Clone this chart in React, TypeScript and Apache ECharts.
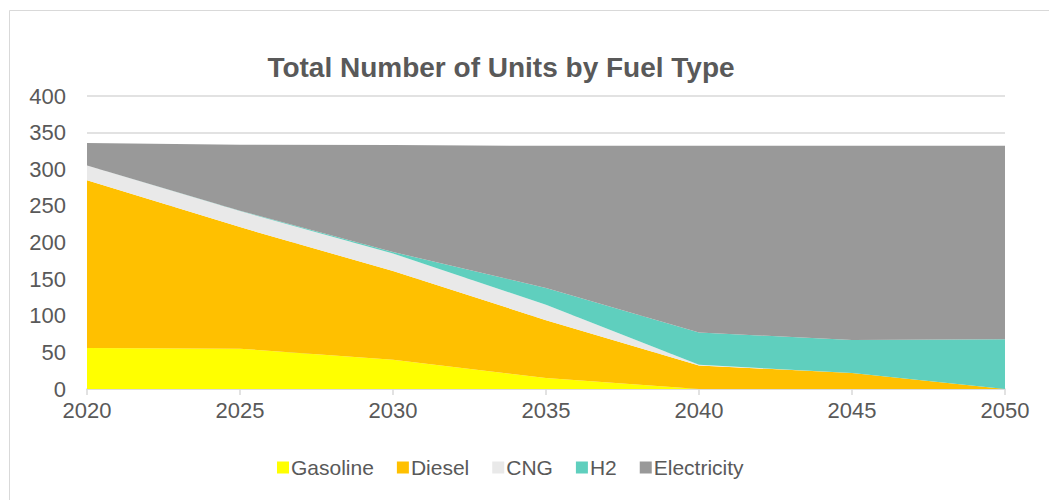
import React, { useEffect, useRef } from "react";
import * as echarts from "echarts";

const years = ["2020", "2025", "2030", "2035", "2040", "2045", "2050"];
const gasoline = [56, 55, 40, 15, 0, 0, 0];
const diesel = [229, 166, 121, 79, 32, 22, 0];
const cng = [20, 22, 24, 21, 1, 0, 0];
const h2 = [0, 0.5, 2, 23, 44, 45, 68];
const electricity = [31, 90, 146, 194, 255, 265, 264];

const seriesNames = ["Gasoline", "Diesel", "CNG", "H2", "Electricity"];
const seriesColors = ["#FFFF00", "#FFC000", "#E9E9E9", "#5FCFBE", "#999999"];
const seriesData = [gasoline, diesel, cng, h2, electricity];

const FONT = "'Liberation Sans', Arial, sans-serif";

export default function App() {
  const ref = useRef<HTMLDivElement>(null);
  useEffect(() => {
    if (!ref.current) return;
    const chart = echarts.init(ref.current, undefined, { renderer: "svg" });
    chart.setOption({
      animation: false,
      backgroundColor: "#ffffff",
      title: {
        text: "Total Number of Units by Fuel Type",
        left: 496,
        top: 48,
        textAlign: "center",
        textStyle: { fontFamily: FONT, fontSize: 28, fontWeight: "bold", color: "#595959" },
      },
      graphic: [
        {
          type: "rect",
          shape: { x: 9.5, y: 10.5, width: 1100, height: 600 },
          style: { fill: "none", stroke: "#d9d9d9", lineWidth: 1 },
          z: -1,
        },
      ],
      legend: {
        left: 272,
        top: 452,
        icon: "rect",
        itemWidth: 12,
        itemHeight: 12,
        itemGap: 23,
        textStyle: { fontFamily: FONT, fontSize: 21, color: "#595959", padding: [0, 0, 0, -3] },
        data: seriesNames,
      },
      grid: { left: 87, right: 44, top: 96, bottom: 111, containLabel: false },
      xAxis: {
        type: "category",
        data: years,
        boundaryGap: false,
        axisLine: { lineStyle: { color: "#d9d9d9", width: 1.5 } },
        axisTick: { show: true, length: 6, lineStyle: { color: "#d9d9d9", width: 1.5 } },
        axisLabel: { fontFamily: FONT, fontSize: 22, color: "#595959", margin: 10 },
      },
      yAxis: {
        type: "value",
        min: 0,
        max: 400,
        interval: 50,
        axisLine: { show: false },
        axisTick: { show: false },
        splitLine: { lineStyle: { color: "#d9d9d9", width: 1.5 } },
        axisLabel: { fontFamily: FONT, fontSize: 22, color: "#595959", margin: 21 },
      },
      series: seriesNames.map((name, i) => ({
        name,
        type: "line",
        stack: "total",
        data: seriesData[i],
        symbol: "none",
        showSymbol: false,
        lineStyle: { width: 0 },
        itemStyle: { color: seriesColors[i] },
        areaStyle: { color: seriesColors[i], opacity: 1 },
      })),
    });
    return () => chart.dispose();
  }, []);
  return (
    <div
      ref={ref}
      style={{ position: "absolute", left: 0, top: 0, width: 1049, height: 500 }}
    />
  );
}
